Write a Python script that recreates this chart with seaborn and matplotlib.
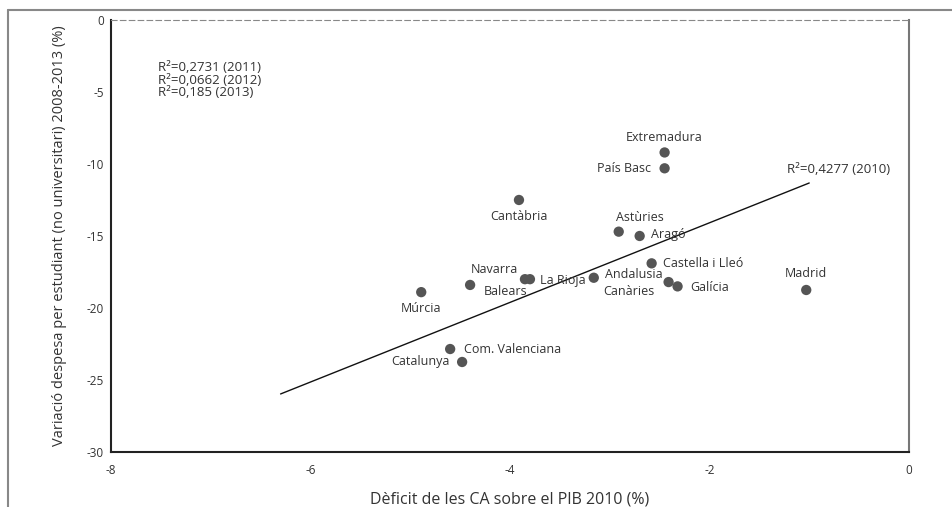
import numpy as np
import pandas as pd
import matplotlib
matplotlib.use("Agg")
import matplotlib.pyplot as plt
from matplotlib.lines import Line2D
import seaborn as sns

# Dades llegides del gràfic
regions = ["Extremadura", "País Basc", "Cantàbria", "Astùries", "Aragó",
           "Castella i Lleó", "Andalusia", "Navarra", "La Rioja", "Balears",
           "Múrcia", "Canàries", "Galícia", "Madrid", "Com. Valenciana", "Catalunya"]
deficit = [-2.45, -2.45, -3.91, -2.91, -2.70, -2.58, -3.16, -3.85, -3.80, -4.40,
           -4.89, -2.41, -2.32, -1.03, -4.60, -4.48]
variacio = [-9.2, -10.3, -12.5, -14.7, -15.0, -16.9, -17.9, -18.0, -18.0, -18.4,
            -18.9, -18.2, -18.5, -18.75, -22.85, -23.75]

# recta de tendència (2010)
trend_x = [-6.3, -1.0]
trend_y = [-25.97, -11.32]

r2_notes = ["R²=0,2731 (2011)", "R²=0,0662 (2012)", "R²=0,185 (2013)"]
r2_trend = "R²=0,4277 (2010)"

# posició de cada etiqueta: (dx, dy en punts, alineació)
label_pos = {
    "Extremadura": (0, 11, "center"),
    "País Basc": (-10, 0, "right"),
    "Cantàbria": (0, -12, "center"),
    "Astùries": (-2, 10, "left"),
    "Aragó": (8, 1, "left"),
    "Castella i Lleó": (8, 0, "left"),
    "Andalusia": (8, 2, "left"),
    "Navarra": (-5, 7, "right"),
    "La Rioja": (7, -1, "left"),
    "Balears": (10, -5, "left"),
    "Múrcia": (0, -12, "center"),
    "Canàries": (-10, -7, "right"),
    "Galícia": (9, -1, "left"),
    "Madrid": (0, 12, "center"),
    "Com. Valenciana": (10, 0, "left"),
    "Catalunya": (-9, 0, "right"),
}

sns.set_style("white")
plt.rcParams["font.family"] = ["Open Sans", "DejaVu Sans"]
plt.rcParams["axes.unicode_minus"] = False

df = pd.DataFrame({"regio": regions, "deficit": deficit, "variacio": variacio})

fig = plt.figure(figsize=(9.53, 5.07), dpi=100)
ax = fig.add_axes([0.1165, 0.1085, 0.8373, 0.8521])

sns.scatterplot(data=df, x="deficit", y="variacio", ax=ax, color="#555555",
                s=55, edgecolor="none", zorder=3)
ax.plot(trend_x, trend_y, color="#111111", lw=1.0, zorder=2)

for _, row in df.iterrows():
    dx, dy, ha = label_pos[row["regio"]]
    ax.annotate(row["regio"], (row["deficit"], row["variacio"]),
                xytext=(dx, dy), textcoords="offset points",
                ha=ha, va="center", fontsize=9, color="#333333")

ax.text(-7.53, -4.2, "\n".join(r2_notes), fontsize=9.5, color="#333333",
        va="center", ha="left", linespacing=0.95)
ax.annotate(r2_trend, (trend_x[1], trend_y[1]), xytext=(-16, 7),
            textcoords="offset points", fontsize=9.5, color="#333333", ha="left")

ax.set_xlim(-8, 0)
ax.set_ylim(-30, 0)
ax.set_xticks([-8, -6, -4, -2, 0])
ax.set_yticks([0, -5, -10, -15, -20, -25, -30])
ax.tick_params(length=0, labelsize=8.5, colors="#333333")
ax.tick_params(axis="x", pad=9)
ax.tick_params(axis="y", pad=5)

ax.set_xlabel("Dèficit de les CA sobre el PIB 2010 (%)", fontsize=11.5,
              color="#333333", labelpad=10)
ax.set_ylabel("Variació despesa per estudiant (no universitari) 2008-2013 (%)",
              fontsize=10.5, color="#333333", labelpad=14)

ax.spines["left"].set_color("#222222")
ax.spines["left"].set_linewidth(1.5)
ax.spines["bottom"].set_color("#222222")
ax.spines["bottom"].set_linewidth(1.5)
ax.spines["top"].set_color("#888888")
ax.spines["top"].set_linestyle((0, (5, 3)))
ax.spines["right"].set_color("#777777")
ax.spines["right"].set_linewidth(1.5)

# marc exterior (només dalt i esquerra)
fig.add_artist(Line2D([8 / 953, 8 / 953], [0, 1 - 10 / 507], color="#888888", lw=1.5))
fig.add_artist(Line2D([8 / 953, 1], [1 - 10 / 507, 1 - 10 / 507], color="#888888", lw=1.5))

fig.savefig("out.png", dpi=100)
